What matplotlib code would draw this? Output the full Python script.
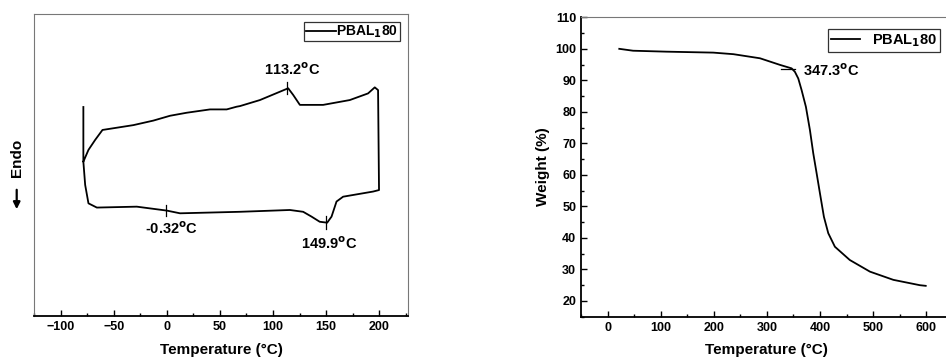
import matplotlib.pyplot as plt
from matplotlib.ticker import MultipleLocator

plt.rcParams['font.family'] = ['Liberation Sans', 'DejaVu Sans']
plt.rcParams['font.weight'] = 'bold'
plt.rcParams['mathtext.default'] = 'bf'

# DSC loop (temperature in C, heat flow in arbitrary units)
dsc_temp = [-78.5, -78.5, -73.7, -67.4, -60.5, -31.4, -12.6, 3.1, 18.8, 40.7, 56.4, 65.8,
            68.9, 87.7, 114.3, 119, 125.3, 147.2, 172.3, 189.5, 195.8, 198.9, 199.8,
            194.2, 166, 159.8, 155.1, 151, 144, 136.3, 128.4, 115.9, 68.9,
            12.5, 0, -28.2, -65.8, -73.7, -76.8, -78.5]
dsc_flow = [69.2, 51.1, 55.0, 58.3, 61.6, 63.2, 64.7, 66.3, 67.3, 68.4, 68.4, 69.3,
            69.5, 71.5, 75.4, 73.2, 69.9, 69.9, 71.5, 73.7, 75.7, 74.8, 41.7,
            41.2, 39.5, 37.9, 32.9, 30.9, 31.2, 32.9, 34.5, 35.1, 34.5,
            34.0, 34.9, 36.2, 35.9, 37.3, 43.4, 51.1]

# TGA curve
tga_temp = [22, 48, 111, 199, 237, 287, 324.7, 346.5, 352.7, 359, 365.3, 373.4, 381, 387.2,
            393.6, 399.8, 407.3, 415.5, 428, 456, 494, 538, 588, 599]
tga_weight = [100.0, 99.4, 99.1, 98.8, 98.3, 97.0, 94.9, 93.8, 92.7, 90.6, 86.9, 81.6, 74.2, 66.9,
              60.5, 54.2, 46.7, 41.5, 37.2, 33.0, 29.3, 26.7, 25.0, 24.8]

sample = 'PBAL$_1$80'

fig = plt.figure(figsize=(9.46, 3.63), dpi=100)


def style_axes(ax, thin):
    for side in ['top', 'right', 'left', 'bottom']:
        ax.spines[side].set_color('black')
        ax.spines[side].set_linewidth(1.3)
    for side in thin:
        ax.spines[side].set_color('#777777')
        ax.spines[side].set_linewidth(0.8)
    ax.tick_params(which='both', direction='in', labelsize=9, width=1)
    ax.tick_params(which='major', length=4)
    ax.tick_params(which='minor', length=2.5)
    for lab in ax.get_xticklabels() + ax.get_yticklabels():
        lab.set_fontweight('bold')


# ---- DSC ----
ax1 = fig.add_axes([0.0359, 0.1295, 0.3953, 0.832])
ax1.plot(dsc_temp, dsc_flow, color='black', lw=1.3, label=sample)
ax1.set_xlim(-125, 227)
ax1.set_ylim(0, 100)
ax1.xaxis.set_major_locator(MultipleLocator(50))
ax1.xaxis.set_minor_locator(MultipleLocator(25))
ax1.set_yticks([])
style_axes(ax1, ['top', 'left', 'right'])
ax1.set_xlabel('Temperature (°C)', fontsize=11, fontweight='bold', labelpad=7)

# peak markers
for t, v, h, lab, dy in [(113.2, 75.5, 3.8, '113.2$^o$C', 6),
                         (-0.32, 34.9, 3.8, '-0.32$^o$C', -6),
                         (149.9, 30.9, 4.2, '149.9$^o$C', -7)]:
    ax1.plot([t, t], [v - h / 2, v + h / 2], color='black', lw=0.9)
    ax1.text(t + (3 if t > 140 else 5), v + dy, lab, fontsize=10.5, fontweight='bold',
             ha='center', va='center')

leg1 = ax1.legend(loc='upper right', fontsize=10, frameon=True, fancybox=False,
                  handlelength=2.2, handletextpad=0.0, borderpad=0.1,
                  borderaxespad=0.6)
leg1.get_frame().set_edgecolor('black')
leg1.get_frame().set_linewidth(0.9)

fig.text(16.7 / 946, 1 - 158 / 363, 'Endo', rotation=90, fontsize=11, fontweight='bold',
         ha='center', va='center')
ax1.annotate('', xy=(16.7, 363 - 212), xytext=(16.7, 363 - 187),
             xycoords='figure pixels', textcoords='figure pixels',
             arrowprops=dict(arrowstyle='-|>', color='black', lw=1.6, mutation_scale=10))

# ---- TGA ----
ax2 = fig.add_axes([0.6142, 0.1275, 0.393, 0.8248])
ax2.plot(tga_temp, tga_weight, color='black', lw=1.3, label=sample)
ax2.set_xlim(-50, 650)
ax2.set_ylim(15, 110)
ax2.xaxis.set_major_locator(MultipleLocator(100))
ax2.xaxis.set_minor_locator(MultipleLocator(50))
ax2.yaxis.set_major_locator(MultipleLocator(10))
ax2.yaxis.set_minor_locator(MultipleLocator(5))
style_axes(ax2, ['top', 'right'])
ax2.set_xlabel('Temperature (°C)', fontsize=11, fontweight='bold', labelpad=7)
ax2.set_ylabel('Weight (%)', fontsize=11, fontweight='bold', labelpad=4)

ax2.plot([326, 353], [93.6, 93.6], color='black', lw=0.9)
ax2.text(368, 93.0, '347.3$^o$C', fontsize=10.5, fontweight='bold', ha='left', va='center')

leg2 = ax2.legend(loc='upper right', fontsize=10.5, frameon=True, fancybox=False,
                  handlelength=2.0, handletextpad=0.8, borderpad=0.2,
                  bbox_to_anchor=(940 / 946, 1 - 29 / 363), bbox_transform=fig.transFigure,
                  borderaxespad=0)
leg2.get_frame().set_edgecolor('black')
leg2.get_frame().set_linewidth(0.9)

fig.savefig('out.png', dpi=100)
